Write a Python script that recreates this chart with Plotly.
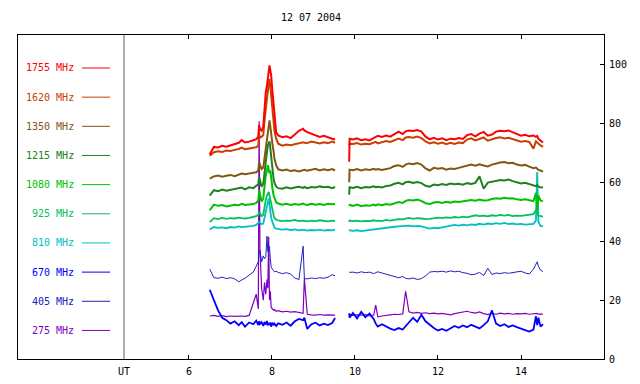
import plotly.graph_objects as go

# ---------------- time axis (UT hours) ----------------
T1 = [6.50, 6.60, 6.70, 6.80, 6.90, 7.00, 7.10, 7.20, 7.27, 7.35, 7.45, 7.55,
      7.62, 7.67, 7.69, 7.71, 7.75, 7.79, 7.82, 7.85, 7.88, 7.90, 7.92, 7.94,
      7.96, 7.98, 8.01, 8.04, 8.06, 8.10, 8.15, 8.25, 8.35, 8.45, 8.55, 8.65,
      8.75, 8.78, 8.85, 8.95, 9.05, 9.15, 9.25, 9.35, 9.45, 9.52]
T2 = [9.86, 9.87, 9.95, 10.05, 10.15, 10.25, 10.35, 10.45, 10.50, 10.55, 10.65,
      10.75, 10.85, 10.95, 11.05, 11.15, 11.22, 11.30, 11.40, 11.50, 11.60, 11.70,
      11.80, 11.90, 12.00, 12.10, 12.20, 12.30, 12.40, 12.50, 12.60, 12.70, 12.80,
      12.90, 13.00, 13.10, 13.20, 13.30, 13.40, 13.50, 13.60, 13.70, 13.80, 13.90,
      14.00, 14.10, 14.20, 14.30, 14.36, 14.39, 14.42, 14.47, 14.53]

# ---------------- series values ----------------
f1755_a = [69.5, 72.0, 71.8, 72.4, 72.1, 72.6, 72.9, 73.4, 74.3, 73.5, 73.8, 74.2,
           74.6, 75.5, 79.5, 78.0, 77.5, 79.0, 86.0, 90.5, 93.0, 95.0, 97.5, 99.7,
           98.0, 96.3, 91.0, 86.0, 82.7, 77.0, 75.9, 75.3, 75.6, 75.0, 76.2, 77.5,
           78.2, 77.6, 77.0, 76.4, 76.0, 75.4, 75.8, 75.2, 74.8, 74.5]
f1755_b = [67.0, 74.8, 74.5, 74.9, 74.3, 74.6, 74.2, 75.0, 75.3, 75.8, 75.4,
           75.9, 75.5, 76.3, 77.2, 76.4, 77.3, 77.6, 77.4, 77.7, 77.2, 75.5,
           74.6, 75.1, 74.5, 74.9, 74.3, 74.8, 74.6, 75.0, 74.7, 76.0, 76.4,
           75.6, 76.5, 77.1, 75.8, 76.2, 77.2, 77.5, 77.3, 77.6, 77.0, 76.3,
           75.8, 76.1, 75.6, 75.9, 75.4, 75.7, 74.8, 74.2, 73.5]

f1620_a = [69.0, 70.2, 70.5, 70.3, 70.8, 70.6, 71.0, 71.3, 71.8, 71.2, 71.5, 71.6,
           71.9, 72.5, 76.5, 75.0, 75.5, 76.0, 81.0, 85.0, 89.0, 92.3, 93.5, 95.0,
           93.0, 89.5, 85.0, 80.0, 77.5, 74.8, 73.1, 72.4, 72.8, 72.6, 73.0, 73.2,
           73.6, 73.4, 73.3, 73.8, 73.5, 73.2, 73.6, 73.3, 73.8, 73.4]
f1620_b = [72.5, 73.1, 73.0, 73.3, 72.8, 73.1, 72.9, 73.4, 73.7, 73.2, 73.6,
           74.0, 73.7, 74.2, 74.8, 74.3, 75.2, 75.4, 75.1, 75.5, 75.0, 73.9,
           73.2, 73.6, 73.1, 73.5, 72.9, 73.4, 73.0, 73.5, 73.3, 74.5, 74.9,
           74.2, 74.8, 75.2, 74.1, 74.6, 75.0, 75.3, 74.9, 75.1, 74.6, 74.2,
           73.8, 74.0, 73.7, 71.4, 73.9, 73.5, 73.0, 72.5, 72.0]

f1350_a = [61.2, 62.0, 62.3, 61.9, 62.2, 62.5, 62.1, 62.6, 63.0, 62.7, 62.9, 63.1,
           63.4, 64.0, 66.9, 66.0, 64.5, 65.0, 68.5, 71.4, 75.0, 78.2, 80.0, 81.0,
           79.0, 76.0, 73.0, 70.3, 68.0, 65.8, 64.4, 64.0, 64.3, 63.8, 64.1, 63.7,
           64.0, 64.2, 63.9, 64.3, 64.6, 64.0, 64.4, 64.1, 64.5, 64.0]
f1350_b = [60.0, 64.3, 64.1, 64.5, 64.0, 64.4, 64.2, 64.6, 64.3, 64.5, 64.2,
           64.6, 64.8, 65.5, 65.8, 65.2, 66.0, 66.4, 66.1, 66.5, 66.0, 64.7,
           64.0, 64.9, 64.6, 64.8, 64.3, 64.7, 64.5, 64.9, 65.3, 65.8, 66.0,
           65.6, 66.1, 65.7, 65.4, 66.0, 66.4, 66.7, 66.9, 66.5, 66.6, 66.0,
           65.7, 65.9, 65.3, 64.8, 65.0, 64.5, 64.2, 64.0, 63.6]

f1215_a = [55.5, 57.3, 57.0, 57.5, 57.1, 57.4, 57.6, 57.8, 58.2, 57.6, 58.3, 58.0,
           58.6, 59.3, 61.8, 60.5, 58.5, 59.5, 64.0, 68.0, 70.5, 72.5, 73.5, 73.9,
           71.5, 68.5, 64.5, 61.0, 59.8, 58.6, 58.0, 57.8, 58.3, 57.9, 58.2, 58.5,
           58.1, 58.4, 58.0, 58.4, 58.2, 58.6, 58.3, 58.5, 58.0, 58.4]
f1215_b = [55.8, 58.3, 58.1, 58.5, 58.0, 58.4, 58.2, 58.6, 58.3, 58.5, 58.2,
           58.7, 58.9, 59.5, 59.8, 59.3, 60.0, 60.2, 59.8, 60.1, 59.7, 58.8,
           58.5, 59.2, 59.0, 59.4, 59.1, 59.6, 59.3, 59.5, 59.2, 59.7, 59.4,
           59.8, 62.0, 57.8, 59.9, 60.2, 60.5, 60.8, 60.6, 60.9, 60.4, 59.9,
           59.6, 59.8, 59.4, 59.0, 58.7, 59.0, 58.5, 58.3, 58.2]

f1080_a = [50.5, 52.4, 52.0, 52.3, 51.8, 52.1, 52.4, 52.2, 52.7, 52.3, 52.5, 52.6,
           53.0, 53.8, 57.3, 56.0, 53.5, 54.5, 59.0, 62.4, 64.0, 65.8, 64.5, 63.0,
           64.0, 60.5, 58.0, 55.5, 54.5, 53.2, 52.8, 52.4, 52.7, 52.3, 52.6, 52.4,
           52.8, 52.5, 52.3, 52.7, 52.4, 52.6, 52.3, 52.7, 52.5, 52.6]
f1080_b = [52.0, 52.3, 52.0, 52.4, 51.9, 52.2, 52.0, 52.4, 52.1, 52.5, 52.2,
           52.6, 52.4, 52.9, 53.3, 53.0, 53.7, 54.0, 53.8, 54.1, 53.7, 52.9,
           52.6, 53.1, 53.3, 53.0, 53.4, 53.1, 53.5, 53.3, 53.6, 53.8, 54.0,
           53.7, 54.1, 53.8, 53.9, 54.3, 54.6, 54.4, 54.7, 54.5, 54.6, 54.2,
           54.0, 54.2, 53.9, 53.6, 56.3, 50.5, 55.5, 53.8, 53.5]

f925_a = [46.5, 47.8, 47.5, 47.9, 47.6, 47.8, 47.7, 48.0, 47.8, 47.7, 47.9, 48.1,
          48.5, 49.0, 49.9, 49.5, 48.5, 49.0, 52.0, 54.0, 55.6, 56.2, 56.7, 55.5,
          54.0, 52.0, 50.5, 48.8, 47.9, 47.3, 47.1, 46.8, 47.0, 46.9, 47.2, 46.8,
          47.0, 46.9, 46.7, 47.0, 46.8, 47.1, 46.9, 46.7, 47.0, 46.8]
f925_b = [46.5, 47.0, 46.8, 47.0, 46.7, 46.9, 46.8, 47.1, 46.9, 47.0, 46.8,
          47.2, 47.0, 47.3, 47.5, 47.4, 47.7, 47.9, 47.6, 47.8, 47.7, 47.5,
          47.6, 47.9, 48.0, 47.8, 48.1, 47.9, 48.2, 48.0, 48.3, 48.1, 48.4,
          48.8, 48.5, 48.7, 48.4, 48.8, 48.6, 48.9, 48.7, 48.9, 48.5, 48.7,
          48.6, 48.8, 48.9, 49.2, 50.5, 49.9, 48.7, 48.4, 48.3]

f810_a = [44.0, 44.8, 44.5, 44.7, 44.4, 44.8, 44.6, 45.0, 44.8, 44.9, 45.0, 45.2,
          45.5, 46.0, 46.5, 46.3, 45.8, 46.0, 48.0, 49.5, 51.6, 53.0, 54.5, 52.5,
          50.0, 48.0, 46.5, 45.0, 44.6, 44.3, 44.2, 43.9, 44.1, 43.8, 44.0, 43.7,
          43.9, 43.8, 43.6, 43.8, 43.7, 43.9, 43.6, 43.8, 43.7, 43.9]
f810_b = [43.5, 43.7, 43.5, 43.7, 43.4, 43.6, 43.8, 44.0, 44.1, 44.3, 44.5,
          44.6, 44.8, 44.9, 45.0, 45.2, 45.1, 45.3, 45.0, 45.2, 45.0, 44.6,
          44.3, 44.5, 44.4, 44.7, 44.9, 45.2, 45.5, 45.3, 45.6, 45.4, 45.7,
          45.5, 45.9, 45.6, 46.0, 45.8, 46.1, 45.9, 46.2, 45.8, 46.0, 45.7,
          45.9, 45.6, 45.8, 45.9, 47.0, 63.5, 46.5, 45.2, 45.0]

f670_a = [23.5, 20.0, 16.5, 14.0, 13.2, 12.0, 12.8, 11.5, 12.5, 11.0, 12.4, 11.8,
          13.0, 11.5, 12.8, 11.9, 12.5, 11.2, 12.6, 11.7, 12.9, 11.4, 12.2, 11.6,
          12.4, 11.0, 12.3, 11.5, 12.0, 11.2, 12.1, 11.6, 12.4, 11.3, 12.8, 13.6,
          13.2, 14.0, 10.2, 11.8, 12.3, 11.4, 12.0, 11.5, 12.2, 13.9]
f670_b = [15.5, 14.0, 15.6, 13.8, 16.0, 14.2, 15.4, 13.6, 12.0, 11.0, 11.8,
          10.9, 10.3, 9.8, 10.5, 10.0, 11.2, 12.5, 14.0, 12.6, 15.0, 12.8,
          11.6, 10.5, 9.7, 10.2, 9.6, 10.5, 11.2, 10.6, 11.4, 10.8, 11.6,
          11.0, 10.4, 11.5, 12.8, 16.5, 12.0, 11.2, 11.8, 10.9, 11.4, 10.8,
          10.2, 9.8, 9.3, 10.0, 14.5, 11.5, 14.0, 11.0, 11.8]

f405_a = [30.5, 27.6, 27.4, 27.8, 27.3, 27.6, 27.2, 26.2, 26.8, 27.4, 28.5, 29.5,
          31.5, 33.0, 36.0, 37.0, 33.0, 35.0, 34.0, 34.7, 41.7, 36.5, 38.5, 38.0,
          34.0, 31.3, 30.5, 30.0, 29.6, 29.8, 29.4, 29.0, 29.3, 28.8, 27.5, 27.0,
          38.3, 27.3, 27.2, 27.5, 27.3, 27.6, 27.4, 27.8, 28.6, 28.3]
f405_b = [29.6, 29.4, 29.5, 29.2, 29.6, 29.3, 29.5, 29.0, 29.3, 29.6, 29.2,
          28.8, 28.3, 27.8, 27.6, 28.0, 27.4, 27.2, 27.5, 27.0, 27.3, 28.2,
          29.5, 29.7, 29.6, 29.8, 29.5, 29.9, 29.6, 29.8, 29.3, 29.1, 28.6,
          28.8, 29.4, 28.3, 30.8, 28.7, 29.2, 29.0, 29.3, 29.1, 29.4, 29.6,
          29.8, 29.2, 28.9, 30.5, 32.0, 33.0, 31.5, 30.2, 29.7]

f275_a = [14.6, 14.8, 14.5, 14.7, 14.4, 14.6, 14.5, 14.7, 14.6, 14.5, 14.8, 19.0,
          22.0, 17.0, 80.7, 37.0, 24.0, 20.0, 26.0, 22.0, 27.0, 24.0, 41.5, 20.0,
          23.0, 17.5, 17.0, 16.6, 16.8, 16.2, 16.4, 16.0, 16.2, 15.9, 16.1, 15.8,
          15.5, 27.4, 15.2, 15.0, 14.9, 15.1, 14.9, 15.0, 14.8, 14.9]
f275_b = [15.0, 15.2, 14.8, 15.0, 14.9, 15.1, 14.6, 14.9, 18.3, 14.3, 14.6,
          14.9, 15.0, 15.2, 15.1, 15.3, 23.0, 16.0, 15.6, 15.8, 15.5, 15.7,
          15.4, 15.6, 15.3, 15.5, 15.2, 15.0, 15.4, 15.6, 15.9, 16.2, 15.8,
          15.6, 16.0, 15.4, 15.1, 15.5, 15.2, 15.6, 15.3, 15.5, 15.2, 15.4,
          15.3, 15.5, 15.2, 15.4, 15.3, 15.5, 15.2, 15.3, 15.1]

LABELS = ["1755 MHz", "1620 MHz", "1350 MHz", "1215 MHz", "1080 MHz",
          "925 MHz", "810 MHz", "670 MHz", "405 MHz", "275 MHz"]
COLORS = ["#ff0000", "#c84000", "#805810", "#208020", "#00c000",
          "#00c060", "#00c0c0", "#0000ff", "#2020c0", "#8000c0"]
SEG_A = [f1755_a, f1620_a, f1350_a, f1215_a, f1080_a, f925_a, f810_a, f670_a, f405_a, f275_a]
SEG_B = [f1755_b, f1620_b, f1350_b, f1215_b, f1080_b, f925_b, f810_b, f670_b, f405_b, f275_b]
WIDTHS = [2.0, 2.0, 2.0, 2.0, 2.0, 1.8, 1.8, 1.8, 1.0, 1.2]

X_TICKS = [6, 8, 10, 12, 14]
Y_TICKS = [0, 20, 40, 60, 80, 100]
TITLE = "12 07 2004"
UT_POS = 4.434

FONT = "DejaVu Sans Mono, monospace"

fig = go.Figure()
xs = T1 + [None] + T2
# draw lower series first so upper ones sit on top
for i in [9, 7, 8, 6, 5, 4, 3, 2, 1, 0]:
    a, b = SEG_A[i], SEG_B[i]
    assert len(a) == len(T1) and len(b) == len(T2), (LABELS[i], len(a), len(b))
    fig.add_trace(go.Scatter(
        x=xs, y=a + [None] + b, mode="lines",
        line=dict(color=COLORS[i], width=WIDTHS[i]),
        name=LABELS[i], showlegend=False, hoverinfo="skip"))

# hand-drawn legend on the left
y_top, y_step = 98.8, 9.9
for i, (lab, col) in enumerate(zip(LABELS, COLORS)):
    yv = y_top - i * y_step
    fig.add_annotation(x=3.28, y=yv, xref="x", yref="y", text=lab, showarrow=False,
                       xanchor="right", yanchor="middle",
                       font=dict(family=FONT, size=10, color=col))
    fig.add_shape(type="line", x0=3.42, x1=4.10, y0=yv, y1=yv, xref="x", yref="y",
                  line=dict(color=col, width=1))

# UT separator line and label
fig.add_shape(type="line", x0=UT_POS, x1=UT_POS, y0=0, y1=1, xref="x", yref="paper",
              line=dict(color="#606060", width=1))
fig.add_annotation(x=UT_POS, y=0, xref="x", yref="paper", text="UT", showarrow=False,
                   yanchor="top", yshift=-5, font=dict(family=FONT, size=10, color="black"))

fig.update_layout(
    width=640, height=384,
    margin=dict(l=18, r=36, t=35, b=25, autoexpand=False),
    paper_bgcolor="white", plot_bgcolor="white",
    font=dict(family=FONT, size=10, color="black"),
    title=dict(text=TITLE, x=0.5, xref="paper", y=1 - 17 / 384, yref="container",
               xanchor="center", yanchor="middle",
               font=dict(family=FONT, size=10, color="black")),
    showlegend=False,
)
fig.update_xaxes(range=[1.88, 16.0], tickvals=X_TICKS, ticktext=[str(v) for v in X_TICKS],
                 ticks="inside", ticklen=4, tickcolor="black", showgrid=False, zeroline=False,
                 showline=True, linecolor="black", linewidth=1, mirror="ticks",
                 ticklabelstandoff=3)
fig.update_yaxes(range=[0, 110], tickvals=Y_TICKS, side="right",
                 ticks="inside", ticklen=4, tickcolor="black", showgrid=False, zeroline=False,
                 showline=True, linecolor="black", linewidth=1, mirror=True,
                 ticklabelstandoff=2)

fig.write_html("out.html", config={"displayModeBar": False},
               post_script="document.body.style.margin='0px';document.body.style.overflow='hidden';")
